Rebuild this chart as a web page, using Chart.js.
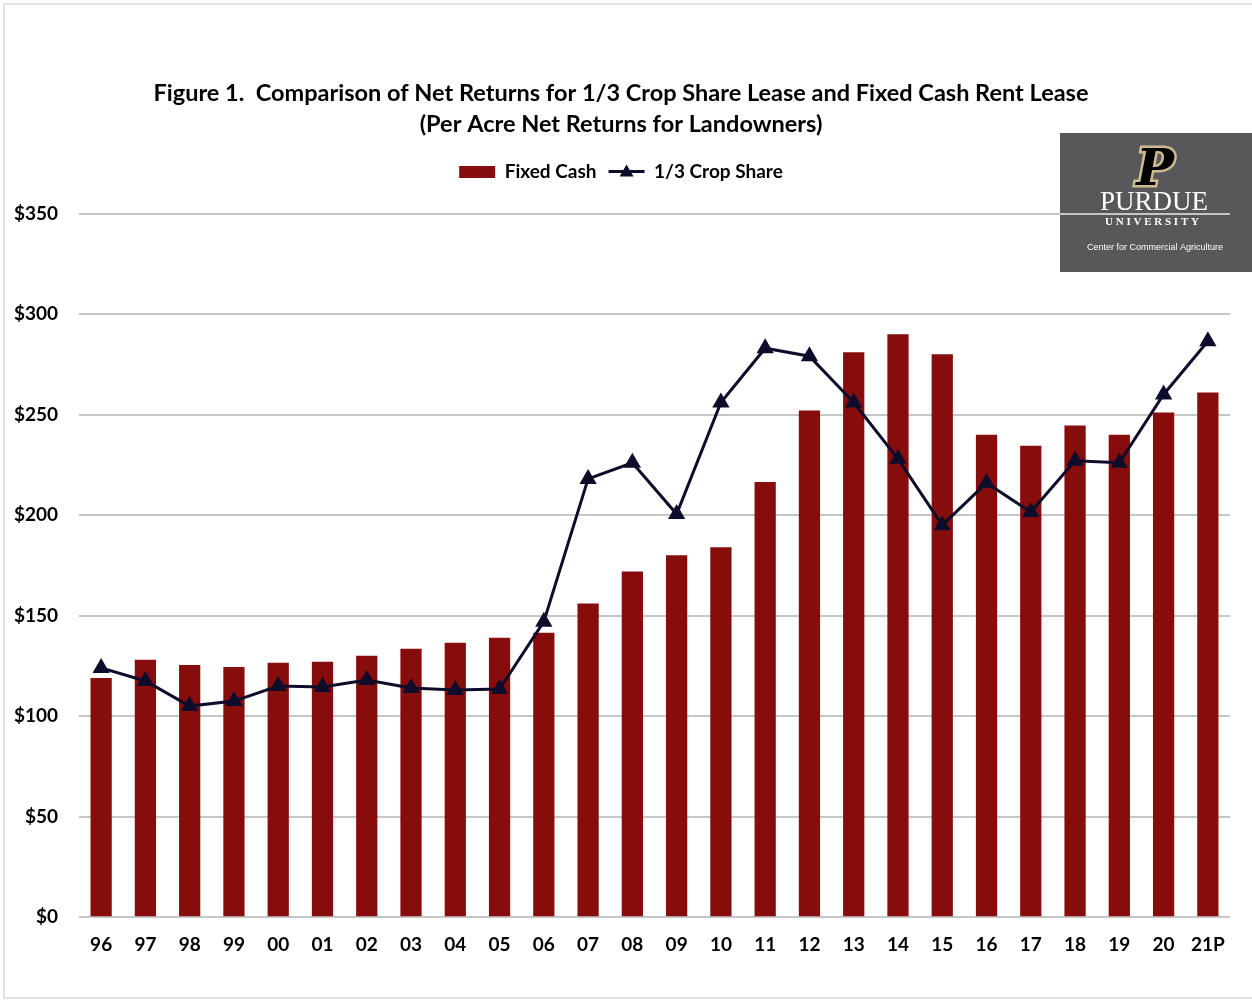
<!DOCTYPE html>
<html lang="en">
  <head>
    <meta charset="UTF-8" />
    <title>Net Returns Comparison</title>
    <script src="https://cdn.jsdelivr.net/npm/chart.js@4.4.1/dist/chart.umd.min.js"></script>
    <style>
      body { margin: 0; background: #fff; }
      #wrap { width: 1252px; height: 1001px; }
    </style>
  </head>
  <body>
    <div id="wrap"><canvas id="myChart" width="1252" height="1001"></canvas></div>

    <script>
      const years = ["96", "97", "98", "99", "00", "01", "02", "03", "04", "05", "06", "07", "08",
        "09", "10", "11", "12", "13", "14", "15", "16", "17", "18", "19", "20", "21P"];
      const fixedCash = [119, 128, 125.5, 124.5, 126.5, 127, 130, 133.5, 136.5, 139, 141.5, 156, 172,
        180, 184, 216.5, 252, 281, 290, 280, 240, 234.5, 244.5, 240, 251, 261];
      const cropShare = [124, 117.5, 105, 107.5, 115, 114.5, 118, 114, 113, 113.5, 147, 218, 226,
        200.5, 256, 283, 279, 256, 228, 195, 216, 201.5, 227, 226, 260, 286.5];
      const yTicks = [0, 50, 100, 150, 200, 250, 300, 350];

      const FONT = "Lato, 'Open Sans', sans-serif";
      const NAVY = "#0d0d2b";
      const RED = "#870d0d";

      // gray Purdue box + frame, drawn under the grid
      const backdrop = {
        id: "backdrop",
        afterInit(chart) {
          // extra room between legend and plot
          const fit = chart.legend.fit;
          chart.legend.fit = function () {
            fit.call(this);
            this.height += 22;
          };
        },
        beforeDraw(chart) {
          const c = chart.ctx;
          c.save();
          c.fillStyle = "#fff";
          c.fillRect(0, 0, chart.width, chart.height);
          c.strokeStyle = "#e2e2e2";
          c.lineWidth = 2;
          c.strokeRect(4, 4, chart.width + 10, chart.height - 7);

          c.fillStyle = "#58585a";
          c.fillRect(1060, 133, 192, 139);
          c.textAlign = "center";
          c.textBaseline = "middle";
          // the P mark
          c.font = "italic 900 50px 'DejaVu Serif', serif";
          c.lineWidth = 5;
          c.strokeStyle = "#cfb991";
          c.strokeText("P", 1155, 172);
          c.fillStyle = "#000";
          c.fillText("P", 1155, 172);
          c.fillStyle = "#fff";
          c.font = "27px 'Liberation Serif', serif";
          c.fillText("PURDUE", 1154, 203);
          c.font = "bold 11px 'Liberation Serif', serif";
          c.fillText("U N I V E R S I T Y", 1152, 222);
          c.font = "9px 'Liberation Sans Narrow', 'Liberation Sans', sans-serif";
          c.fillText("Center for Commercial Agriculture", 1155, 248);
          c.restore();
        }
      };

      // legend entry for the line: short line with a triangle
      const legendLine = {
        id: "legendLine",
        afterDraw(chart) {
          const lg = chart.legend;
          if (!lg || !lg.legendHitBoxes[1]) return;
          const b = lg.legendHitBoxes[1];
          const c = chart.ctx;
          const cy = b.top + 9;
          c.save();
          c.strokeStyle = NAVY;
          c.lineWidth = 3;
          c.beginPath();
          c.moveTo(b.left, cy);
          c.lineTo(b.left + 36, cy);
          c.stroke();
          c.fillStyle = NAVY;
          c.beginPath();
          c.moveTo(b.left + 18, cy - 7);
          c.lineTo(b.left + 25, cy + 5);
          c.lineTo(b.left + 11, cy + 5);
          c.closePath();
          c.fill();
          c.restore();
        }
      };

      new Chart(document.getElementById("myChart"), {
        data: {
          labels: years,
          datasets: [
            {
              type: "line",
              label: "1/3 Crop Share",
              data: cropShare,
              borderColor: NAVY,
              backgroundColor: NAVY,
              borderWidth: 3,
              pointStyle: "triangle",
              pointRadius: 7,
              pointBackgroundColor: NAVY,
              pointBorderColor: NAVY,
              tension: 0,
              order: 0
            },
            {
              type: "bar",
              label: "Fixed Cash",
              data: fixedCash,
              backgroundColor: RED,
              barPercentage: 0.48,
              categoryPercentage: 1,
              order: 1
            }
          ]
        },
        options: {
          responsive: false,
          animation: false,
          layout: { padding: { left: 12, right: 22, top: 0, bottom: 37 } },
          plugins: {
            title: {
              display: true,
              text: ["Figure 1.  Comparison of Net Returns for 1/3 Crop Share Lease and Fixed Cash Rent Lease",
                "(Per Acre Net Returns for Landowners)"],
              color: "#000",
              font: { family: FONT, size: 23.5, weight: "bold", lineHeight: 1.33 },
              padding: { top: 78, bottom: 10 }
            },
            legend: {
              position: "top",
              labels: {
                color: "#000",
                font: { family: FONT, size: 19, weight: "bold" },
                boxWidth: 36,
                boxHeight: 12,
                padding: 12,
                generateLabels(chart) {
                  return [
                    { text: "Fixed Cash", fillStyle: RED, strokeStyle: RED, lineWidth: 0, datasetIndex: 1 },
                    { text: "1/3 Crop Share", fillStyle: "rgba(0,0,0,0)", strokeStyle: "rgba(0,0,0,0)", lineWidth: 0, datasetIndex: 0 }
                  ];
                }
              }
            },
            tooltip: { enabled: false }
          },
          scales: {
            x: {
              grid: { display: false },
              border: { display: false },
              ticks: {
                color: "#000",
                font: { family: FONT, size: 19, weight: "bold" },
                padding: 8,
                maxRotation: 0
              }
            },
            y: {
              min: 0,
              max: 350,
              afterBuildTicks(axis) {
                axis.ticks = yTicks.map((v) => ({ value: v }));
              },
              afterFit(axis) {
                axis.width = 67;
              },
              grid: { color: "#c6c6c6", lineWidth: 2, drawTicks: false },
              border: { display: false },
              ticks: {
                color: "#000",
                font: { family: FONT, size: 19, weight: "bold" },
                padding: 21,
                callback: (v) => "$" + v
              }
            }
          }
        },
        plugins: [backdrop, legendLine]
      });
    </script>
  </body>
</html>
